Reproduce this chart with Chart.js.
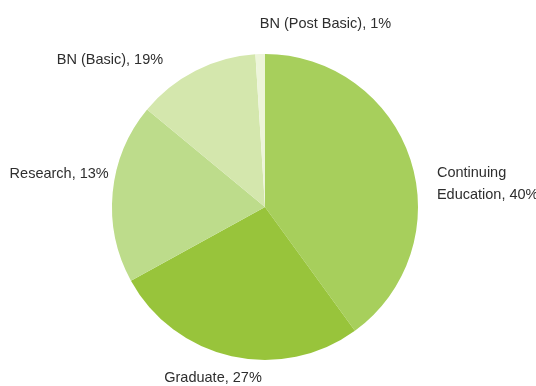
<!DOCTYPE html>
<html>
<head>
<meta charset="utf-8">
<script src="https://cdn.jsdelivr.net/npm/chart.js@4/dist/chart.umd.min.js"></script>
<style>
  html, body { margin: 0; padding: 0; background: #fff; }
  #wrap { width: 536px; height: 386px; }
</style>
</head>
<body>
<div id="wrap"><canvas id="pieChart" width="536" height="386"></canvas></div>
<script>
// categories, in drawing order (clockwise from 12 o'clock)
const categories = ["Continuing Education", "Graduate", "Research", "BN (Basic)", "BN (Post Basic)"];
// slice sizes as drawn in the picture
const sliceValues = [40, 27, 19, 13, 1];
// percentages as printed on the labels
const labelPercents = [40, 27, 13, 19, 1];
// how each label wraps
const labelLines = [
  ["Continuing", "Education, 40%"],
  ["Graduate, 27%"],
  ["Research, 13%"],
  ["BN (Basic), 19%"],
  ["BN (Post Basic), 1%"],
];

const sliceColors = ["#a7cf5c", "#98c43b", "#bddc8b", "#d4e7ad", "#edf5da"];

// small nudges (px) for each label, like Excel's outside-end placement
const labelNudge = [
  { dx: 15, dy: 28, align: "left" },
  { dx: -16, dy: 10, align: "center" },
  { dx: 8, dy: -17, align: "right" },
  { dx: -27, dy: 0, align: "right" },
  { dx: 0, dy: -18, align: "left" },
];

const outsideLabels = {
  id: "outsideLabels",
  afterDatasetsDraw(chart) {
    const ctx = chart.ctx;
    const meta = chart.getDatasetMeta(0);
    ctx.save();
    ctx.font = "14.5px 'Liberation Sans', Arial, sans-serif";
    ctx.fillStyle = "#2e2e2e";
    ctx.textBaseline = "middle";
    meta.data.forEach((arc, i) => {
      const mid = (arc.startAngle + arc.endAngle) / 2;
      const r = arc.outerRadius + 12;
      const n = labelNudge[i];
      const x = arc.x + Math.cos(mid) * r + n.dx;
      const y = arc.y + Math.sin(mid) * r + n.dy;
      const lines = labelLines[i];
      const lh = 22;
      ctx.textAlign = n.align;
      lines.forEach((t, k) => {
        ctx.fillText(t, x, y + (k - (lines.length - 1) / 2) * lh);
      });
    });
    ctx.restore();
  },
};

new Chart(document.getElementById("pieChart").getContext("2d"), {
  type: "pie",
  data: {
    labels: categories.map((c, i) => c + ", " + labelPercents[i] + "%"),
    datasets: [
      {
        data: sliceValues,
        backgroundColor: sliceColors,
        borderWidth: 0,
      },
    ],
  },
  options: {
    responsive: false,
    animation: false,
    layout: { padding: { left: 112, right: 118, top: 54, bottom: 26 } },
    plugins: {
      legend: { display: false },
      tooltip: { enabled: false },
    },
  },
  plugins: [outsideLabels],
});
</script>
</body>
</html>
